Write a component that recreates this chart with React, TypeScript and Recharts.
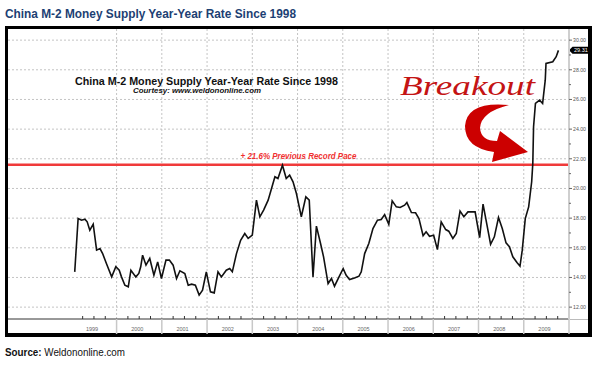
import React from 'react';
import { LineChart, Line, XAxis, YAxis, CartesianGrid, ReferenceLine } from 'recharts';

// Month index since Jan 1999 (0 = Jan 1999)
const months = [
  0.9, 1.8, 2.7, 3.6, 4.2, 4.9, 5.8, 6.7, 7.6, 8.3,
  9.3, 10.7, 11.8, 12.7, 13.3, 14.2, 15.1, 15.8, 17.1, 17.9,
  18.4, 18.9, 19.8, 20.8, 21.9, 22.9, 23.9, 25.1, 26.0, 27.0,
  27.9, 28.8, 30.1, 31.0, 31.9, 32.9, 33.9, 34.8, 35.8, 36.9,
  37.9, 38.9, 39.8, 41.1, 42.0, 42.7, 43.8, 44.9, 46.0, 46.9,
  48.0, 49.1, 50.0, 51.0, 52.2, 53.1, 54.0, 54.8, 56.0, 57.0,
  57.9, 58.8, 59.7, 61.0, 62.2, 63.1,
  64.1, 65.0, 66.1, 66.9, 68.1, 69.0, 69.8, 71.0, 72.1, 72.9,
  73.8, 75.1, 76.3, 76.9, 77.8, 78.9, 80.0, 81.2, 82.2, 83.1,
  84.2, 85.1, 86.2, 87.2, 88.4, 89.0, 90.2, 91.3, 92.2, 93.3,
  94.1, 95.0, 96.1, 97.1, 98.1, 99.3, 100.1, 101.2, 102.1, 103.1,
  104.1, 105.2, 106.1, 107.1, 108.3, 109.2, 110.2, 111.2, 112.2, 113.3,
  114.3, 115.3, 116.2, 117.1, 118.2, 119.0, 119.6, 120.4, 121.3, 122.1,
  122.4, 122.6, 123.1, 124.2, 125.0, 125.7, 125.9, 127.7, 128.6, 129.2,
];

const m2Rate = [
  14.38, 17.98, 17.86, 17.93, 17.75, 17.19, 17.59, 15.84, 15.95, 15.61,
  14.94, 14.04, 14.72, 14.49, 14.04, 13.48, 13.37, 14.49, 14.04, 14.27,
  14.72, 15.50, 14.83, 15.28, 14.15, 15.05, 13.93, 15.17, 15.17, 14.83,
  13.93, 14.45, 14.27, 13.48, 13.55, 13.48, 12.81, 13.14, 14.38, 13.03,
  12.96, 14.38, 14.04, 14.49, 14.60, 14.38, 15.61, 16.51, 16.96, 16.63,
  16.85, 19.21, 18.09, 18.54, 19.21, 20.00, 20.79, 20.67, 21.57, 20.67,
  20.90, 20.45, 19.66, 18.09, 19.44, 19.21,
  14.04, 17.46, 16.29, 15.39, 13.59, 13.93, 13.41, 14.04, 14.60, 14.15,
  13.86, 13.97, 14.09, 14.38, 15.61, 16.29, 17.30, 17.86, 17.91, 18.24,
  17.59, 19.17, 18.76, 18.72, 18.87, 19.05, 18.38, 18.36, 17.97, 16.81,
  17.08, 16.78, 16.85, 15.88, 17.75, 17.23, 17.12, 16.63, 16.96, 18.47,
  18.09, 18.42, 18.42, 18.42, 16.69, 18.94, 17.59, 16.24, 16.74, 18.04,
  17.30, 16.33, 16.07, 15.39, 15.01, 14.76, 15.84, 17.97, 18.76, 20.45,
  21.68, 24.16, 25.73, 25.95, 25.73, 27.30, 28.43, 28.54, 28.88, 29.31,
];

const yMajorTicks = [12, 14, 16, 18, 20, 22, 24, 26, 28, 30];
const yMinorTicks = [13, 15, 17, 19, 21, 23, 25, 27, 29];

const yearLabels = ['1999', '2000', '2001', '2002', '2003', '2004', '2005', '2006', '2007', '2008', '2009'];
const yearLabelMonths = [5.5, 17.5, 29.5, 41.5, 53.5, 65.5, 77.5, 89.5, 101.5, 113.5, 125.5];
const yearStartMonths = [12, 24, 36, 48, 60, 72, 84, 96, 108, 120, 132];
const quarterMonths = [
  3, 6, 9, 15, 18, 21, 27, 30, 33, 39, 42, 45, 51, 54, 57, 63, 66, 69,
  75, 78, 81, 87, 90, 93, 99, 102, 105, 111, 114, 117, 123, 126, 129,
];

const recordPace = 21.6;
const recordLabel = '+ 21.6% Previous Record Pace';
const chartTitle = 'China M-2 Money Supply Year-Year Rate Since 1998';
const courtesy = 'Courtesy: www.weldononline.com';

const n = Math.min(months.length, m2Rate.length);
const data = months.slice(0, n).map((m, i) => ({ m, v: m2Rate[i] }));
const lastValue = m2Rate[n - 1];

const xTicks = Array.from(new Set([...quarterMonths, ...yearStartMonths, ...yearLabelMonths])).sort((a, b) => a - b);
const yTicks = [...yMajorTicks, ...yMinorTicks].sort((a, b) => a - b);

const XTick = (props: any) => {
  const { x, y, payload } = props;
  const v = payload.value;
  const li = yearLabelMonths.indexOf(v);
  return (
    <g>
      {quarterMonths.includes(v) && <line x1={x} x2={x} y1={y} y2={y - 3} stroke="#333" strokeWidth={1} />}
      {yearStartMonths.includes(v) && <line x1={x} x2={x} y1={y} y2={y + 15} stroke="#c8c8c8" strokeWidth={1.5} />}
      {li >= 0 && (
        <text x={x} y={y + 12} textAnchor="middle" fontSize={5.5} fill="#666">
          {yearLabels[li]}
        </text>
      )}
    </g>
  );
};

const YTick = (props: any) => {
  const { x, y, payload } = props;
  const v = payload.value;
  const major = yMajorTicks.includes(v);
  return (
    <g>
      <line x1={x} x2={x + (major ? 3 : 2)} y1={y} y2={y} stroke="#666" strokeWidth={1} />
      {major && (
        <text x={x + 4} y={y + 2} fontSize={5.2} fill="#555">
          {v.toFixed(2)}
        </text>
      )}
    </g>
  );
};

const RecordLabel = (props: any) => {
  const vb = props.viewBox || {};
  const cx = vb.x + vb.width / 2 + 10;
  return (
    <text x={cx} y={vb.y - 6} textAnchor="middle" fontSize={8.5} fontWeight="bold" fontStyle="italic"
      fill="#f03030" textLength={116} lengthAdjust="spacingAndGlyphs">
      {recordLabel}
    </text>
  );
};

const LastTag = (props: any) => {
  const vb = props.viewBox || {};
  const x = vb.x + vb.width;
  const y = vb.y;
  return (
    <g>
      <polygon points={`${x},${y} ${x + 3.5},${y - 3.5} ${x + 21},${y - 3.5} ${x + 21},${y + 3.5} ${x + 3.5},${y + 3.5}`} fill="#000" />
      <text x={x + 5} y={y + 2} fontSize={5.5} fill="#fff">{lastValue.toFixed(2)}</text>
    </g>
  );
};

export default function App() {
  return (
    <div style={{ position: 'absolute', left: 0, top: 0, width: 600, height: 366, background: '#fff', fontFamily: '"Liberation Sans", Arial, sans-serif', overflow: 'hidden' }}>
      <div style={{ position: 'absolute', left: 5, top: 26, width: 587, height: 311, boxSizing: 'border-box', borderStyle: 'solid', borderColor: '#000', borderWidth: '3px 4px 4px 3px' }} />
      <div style={{ position: 'absolute', left: 0, top: 0 }}>
        <LineChart width={600} height={366} data={data} margin={{ top: 29, right: 10, bottom: 32, left: 8 }}>
          <CartesianGrid stroke="#c4c4c4" strokeDasharray="2 2" horizontalValues={yMajorTicks} verticalValues={yearStartMonths.slice(0, 10)} />
          <XAxis dataKey="m" type="number" domain={[-16.8, 132]} allowDataOverflow ticks={xTicks} interval={0}
            tick={<XTick />} tickLine={false} tickSize={0} tickMargin={0} height={15} axisLine={{ stroke: '#333', strokeWidth: 1 }} />
          <YAxis orientation="right" type="number" domain={[11.2, 30.75]} allowDataOverflow ticks={yTicks} interval={0}
            tick={<YTick />} tickLine={false} tickSize={0} tickMargin={0} width={21} axisLine={{ stroke: '#cfcfcf', strokeWidth: 2 }} />
          <ReferenceLine y={recordPace} stroke="#f03a3a" strokeWidth={2.5} label={<RecordLabel />} />
          <ReferenceLine y={lastValue} stroke="none" strokeWidth={0} label={<LastTag />} />
          <Line type="linear" dataKey="v" stroke="#111" strokeWidth={1.6} dot={false} isAnimationActive={false} />
        </LineChart>
      </div>
      <svg width={600} height={366} style={{ position: 'absolute', left: 0, top: 0, pointerEvents: 'none' }}>
        <text x={5} y={18.3} fontFamily='"Liberation Sans Narrow", "Liberation Sans", Arial' fontWeight="bold" fontSize={12.5}
          fill="#1d3f73" textLength={291} lengthAdjust="spacingAndGlyphs">{chartTitle}</text>
        <text x={5} y={356} fontSize={10.5} fill="#111" textLength={120} lengthAdjust="spacingAndGlyphs">
          <tspan fontWeight="bold">Source:</tspan> Weldononline.com
        </text>
        <line x1={570} x2={588} y1={319.5} y2={319.5} stroke="#bbb" strokeWidth={1} />
        <text x={206.5} y={85} textAnchor="middle" fontWeight="bold" fontSize={11} fill="#111"
          textLength={263} lengthAdjust="spacingAndGlyphs">{chartTitle}</text>
        <text x={197} y={93.3} textAnchor="middle" fontWeight="bold" fontStyle="italic" fontSize={8} fill="#111"
          textLength={128} lengthAdjust="spacingAndGlyphs">{courtesy}</text>
        <text x={400} y={95} fontFamily='"Liberation Serif", "DejaVu Serif", serif' fontStyle="italic" fontSize={28}
          fill="#c41414" textLength={135} lengthAdjust="spacingAndGlyphs">Breakout</text>
        <path d="M509,105 Q467,101 465,126 Q465,148 494,152 L492,162 L528,152 L500,131 L497,141 Q481,141 480,128 Q481,112 509,105 Z" fill="#cc0000" />
      </svg>
    </div>
  );
}
